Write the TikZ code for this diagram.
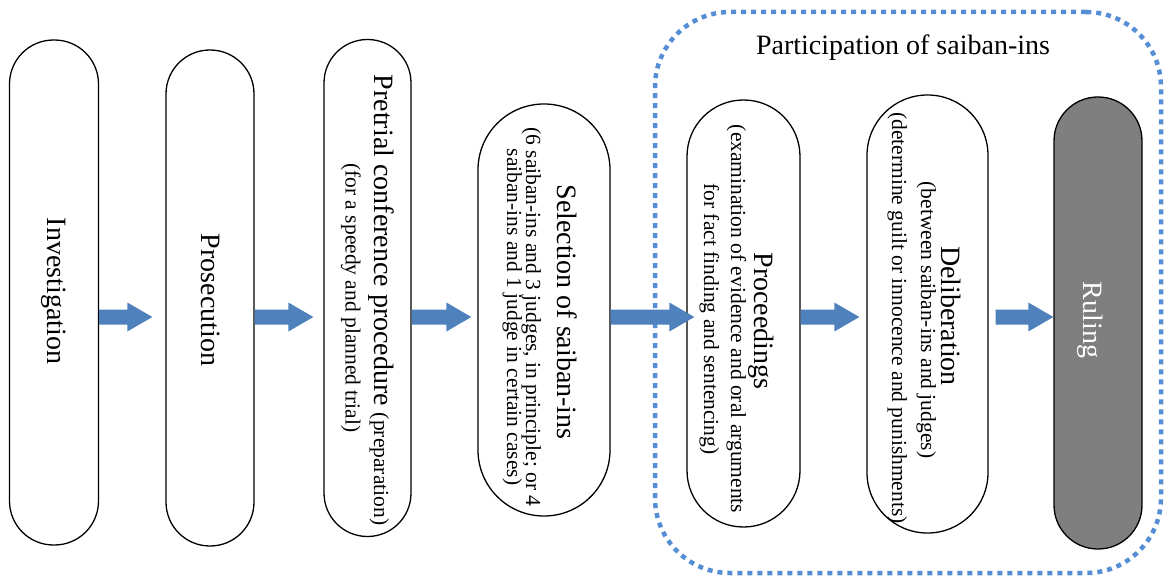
\documentclass[tikz,border=0pt]{standalone}
\usepackage{fontspec}
\setmainfont{Liberation Serif}
\usetikzlibrary{calc}
\definecolor{arrowblue}{RGB}{79,129,189}
\definecolor{dotblue}{RGB}{85,142,213}
\definecolor{rulegray}{RGB}{127,127,127}
\newcommand{\fsm}{\fontsize{28pt}{32pt}\selectfont}
\newcommand{\fss}{\fontsize{21.5pt}{24pt}\selectfont}
\newcommand{\blkarrow}[2]{%
  \fill[arrowblue] let \p1=(#1), \p2=(#2) in
    (\x1,\y1+7.5pt) -- (\x2-25pt,\y1+7.5pt) -- (\x2-25pt,\y1+14.5pt) -- (\x2,\y1)
    -- (\x2-25pt,\y1-14.5pt) -- (\x2-25pt,\y1-7.5pt) -- (\x1,\y1-7.5pt) -- cycle;}
\tikzset{
  stage/.style={draw=black, line width=1.3pt, fill=white, inner sep=0pt},
  lbl/.style={rotate=-90, anchor=base, inner sep=0pt, text=black},
  grpbox/.style={draw=dotblue, line width=4.5pt, dash pattern=on 5pt off 5pt, rounded corners=75pt, inner sep=0pt},
}
\begin{document}
\begin{tikzpicture}[x=1pt,y=-1pt]
\useasboundingbox (0,0) rectangle (1166,577);
% group frame
\node[grpbox, minimum width=506pt, minimum height=561pt] (grp) at (908,292.5) {};
\node[anchor=base, inner sep=0pt, font=\fsm] (grpT) at (903,55) {Participation of saiban-ins};
% stages
\node[stage, rounded corners=44pt, minimum width=89pt, minimum height=505pt] (inv) at (54,292.5) {};
\node[stage, rounded corners=43.9pt, minimum width=88pt, minimum height=496pt] (pros) at (210,298) {};
\node[stage, rounded corners=43.4pt, minimum width=87pt, minimum height=497pt] (pre) at (367.5,288) {};
\node[stage, rounded corners=65.9pt, minimum width=132pt, minimum height=412pt] (sel) at (544,310) {};
\node[stage, rounded corners=56.4pt, minimum width=113pt, minimum height=427pt] (proc) at (743.5,313.5) {};
\node[stage, rounded corners=60.4pt, minimum width=121pt, minimum height=438pt] (delib) at (927.5,314) {};
\node[stage, fill=rulegray, rounded corners=43.9pt, minimum width=88pt, minimum height=452pt] (rul) at (1098,323) {};
% labels
\node[lbl, font=\fsm] (invT) at (47.5,291) {Investigation};
\node[lbl, font=\fsm] (prosT) at (201.5,300) {Prosecution};
\node[lbl] (preT1) at (374,300) {{\fsm Pretrial conference procedure }{\fss(preparation)}};
\node[lbl, font=\fss] (preT2) at (345.5,298) {(for a speedy and planned trial)};
\node[lbl, font=\fsm] (selT1) at (557,312) {Selection of saiban-ins};
\node[lbl, font=\fss] (selT2) at (526,317) {(6 saiban-ins and 3 judges, in principle; or 4};
\node[lbl, font=\fss] (selT3) at (507,317) {saiban-ins and 1 judge in certain cases)};
\node[lbl, font=\fsm] (procT1) at (754,321) {Proceedings};
\node[lbl, font=\fss] (procT2) at (731,319) {(examination of evidence and oral arguments};
\node[lbl, font=\fss] (procT3) at (704,319) {for fact finding and sentencing)};
\node[lbl, font=\fsm] (delT1) at (941,316) {Deliberation};
\node[lbl, font=\fss] (delT2) at (921,320) {(between saiban-ins and judges)};
\node[lbl, font=\fss] (delT3) at (892,318) {(determine guilt or innocence and punishments)};
\node[lbl, font=\fsm, text=white] (rulT) at (1083.5,320) {Ruling};
% arrows
\coordinate (ay) at (0,317);
\blkarrow{inv.east |- ay}{$(pros.west |- ay)+(-13,0)$}
\blkarrow{pros.east |- ay}{$(pre.west |- ay)+(-10,0)$}
\blkarrow{pre.east |- ay}{$(sel.west |- ay)+(-6,0)$}
\blkarrow{sel.east |- ay}{$(proc.west |- ay)+(8,0)$}
\blkarrow{proc.east |- ay}{$(delib.west |- ay)+(-7,0)$}
\blkarrow{$(delib.east |- ay)+(7,0)$}{rul.west |- ay}
\end{tikzpicture}
\end{document}
